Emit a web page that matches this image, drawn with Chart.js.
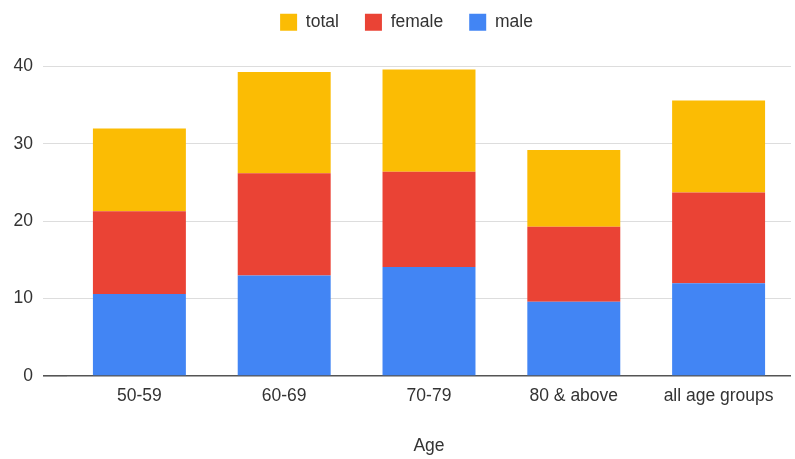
<!DOCTYPE html>
<html>
<head>
<meta charset="utf-8">
<script src="https://cdn.jsdelivr.net/npm/chart.js@4"></script>
<style>
  html, body { margin: 0; padding: 0; background: #ffffff; }
  #wrap { width: 795px; height: 459px; }
</style>
</head>
<body>
<div id="wrap"><canvas id="c" width="795" height="459"></canvas></div>
<script>
const categories = ['50-59', '60-69', '70-79', '80 & above', 'all age groups'];
const male = [10.6, 13.0, 14.1, 9.6, 12.0];
const female = [10.7, 13.2, 12.3, 9.7, 11.7];
const total = [10.7, 13.1, 13.2, 9.9, 11.9];
const yTicks = [0, 10, 20, 30, 40];
const xTitle = 'Age';

const FONT = "Arial, 'Liberation Sans', sans-serif";
const TEXT = '#333333';

// moves the legend box up/right after layout so the plot area keeps its place
const legendShift = {
  id: 'legendShift',
  afterLayout(chart) {
    const lg = chart.legend;
    if (!lg) return;
    lg.top -= 25.5; lg.bottom -= 25.5;
    lg.left += 6; lg.right += 6;
  }
};

new Chart(document.getElementById('c'), {
  type: 'bar',
  data: {
    labels: categories,
    datasets: [
      { label: 'male', data: male, backgroundColor: '#4285f4' },
      { label: 'female', data: female, backgroundColor: '#ea4335' },
      { label: 'total', data: total, backgroundColor: '#fbbc04' }
    ]
  },
  plugins: [legendShift],
  options: {
    responsive: false,
    animation: false,
    devicePixelRatio: 1,
    layout: { padding: { top: 13, right: 4, bottom: 0, left: 10 } },
    datasets: { bar: { categoryPercentage: 1.0, barPercentage: 0.642, borderWidth: 0 } },
    plugins: {
      tooltip: { enabled: false },
      legend: {
        position: 'top',
        reverse: true,
        labels: {
          boxWidth: 17,
          boxHeight: 17,
          padding: 26,
          color: TEXT,
          font: { family: FONT, size: 17.5 }
        }
      }
    },
    scales: {
      x: {
        stacked: true,
        grid: { display: false, drawTicks: false },
        border: { display: false },
        ticks: { color: TEXT, font: { family: FONT, size: 17.5 }, padding: 10, maxRotation: 0, autoSkip: false },
        title: { display: true, text: xTitle, color: TEXT, font: { family: FONT, size: 17.5 }, padding: { top: 4, bottom: 2.5 } },
        afterFit: (s) => { s.height = 83; }
      },
      y: {
        stacked: true,
        min: yTicks[0],
        max: yTicks[yTicks.length - 1],
        afterBuildTicks: (s) => { s.ticks = yTicks.map(v => ({ value: v })); },
        grid: {
          drawTicks: true,
          tickLength: 24,
          color: (ctx) => (ctx.tick && ctx.tick.value === 0) ? '#555555' : '#dddddd',
          lineWidth: (ctx) => (ctx.tick && ctx.tick.value === 0) ? 1.6 : 1
        },
        border: { display: false },
        ticks: { color: TEXT, font: { family: FONT, size: 17.5 }, padding: 10 },
        afterFit: (s) => { s.width = 57; }
      }
    }
  }
});
</script>
</body>
</html>
